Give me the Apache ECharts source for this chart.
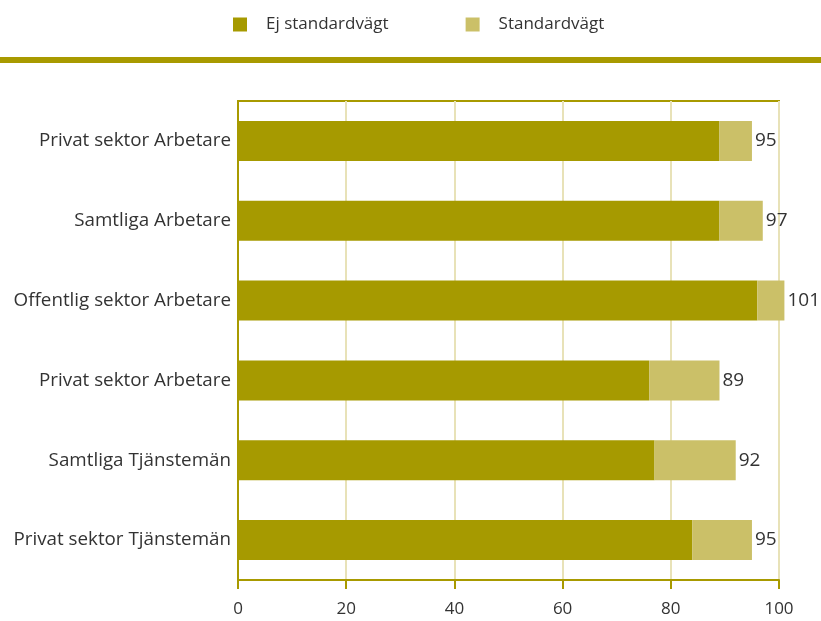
<!DOCTYPE html>
<html><head><meta charset="utf-8">
<script src="https://cdn.jsdelivr.net/npm/echarts@6/dist/echarts.min.js"></script>
<style>html,body{margin:0;padding:0;background:#fff}#c{width:821px;height:621px}</style>
</head><body><div id="c"></div>
<script>
const categories = ["Privat sektor Arbetare","Samtliga Arbetare","Offentlig sektor Arbetare","Privat sektor Arbetare","Samtliga Tjänstemän","Privat sektor Tjänstemän"];
const ejStandard = [89, 89, 96, 76, 77, 84];
const standard = [6, 8, 5, 13, 15, 11];
const totals = [95, 97, 101, 89, 92, 95];
const xTicks = [0, 20, 40, 60, 80, 100];

const DARK = '#a69a00', LIGHT = '#cbc068', AXIS = '#a89a00', GRID = '#e8e2b8', TXT = '#333333';
const FONT = 'Open Sans';
const chart = echarts.init(document.getElementById('c'));
chart.setOption({
  animation: false,
  textStyle: {fontFamily: FONT},
  legend: {
    top: 11, left: 228, itemWidth: 14, itemHeight: 14, itemGap: 77, icon: 'rect',
    textStyle: {fontSize: 17, color: TXT, fontFamily: FONT, padding: [0,0,0,14]},
    data: ['Ej standardvägt', 'Standardvägt']
  },
  graphic: [{type: 'rect', shape: {x: 0, y: 57, width: 821, height: 6}, style: {fill: AXIS}}],
  grid: {left: 238, right: 42, top: 101, bottom: 41, show: true, borderColor: AXIS, borderWidth: 2, backgroundColor: 'transparent'},
  xAxis: {
    type: 'value', min: 0, max: 100, interval: 20,
    axisLine: {show: true, lineStyle: {color: AXIS, width: 2}},
    axisTick: {show: true, length: 9, lineStyle: {color: AXIS, width: 2}},
    splitLine: {show: true, lineStyle: {color: GRID, width: 2}},
    axisLabel: {fontSize: 17, color: TXT, margin: 21, fontFamily: FONT,
      formatter: v => xTicks.includes(v) ? String(v) : ''}
  },
  yAxis: {
    type: 'category', inverse: true, data: categories,
    axisLine: {show: true, lineStyle: {color: AXIS, width: 2}},
    axisTick: {show: false},
    axisLabel: {fontSize: 18.8, color: TXT, margin: 7, fontFamily: FONT}
  },
  series: [
    {name: 'Ej standardvägt', type: 'bar', stack: 's', data: ejStandard, barWidth: 40, clip: false, itemStyle: {color: DARK}},
    {name: 'Standardvägt', type: 'bar', stack: 's', data: standard, barWidth: 40, clip: false, itemStyle: {color: LIGHT},
     label: {show: true, position: 'right', distance: 3, fontSize: 19, color: TXT, fontFamily: FONT,
       formatter: p => String(totals[p.dataIndex])}}
  ]
});
</script></body></html>
